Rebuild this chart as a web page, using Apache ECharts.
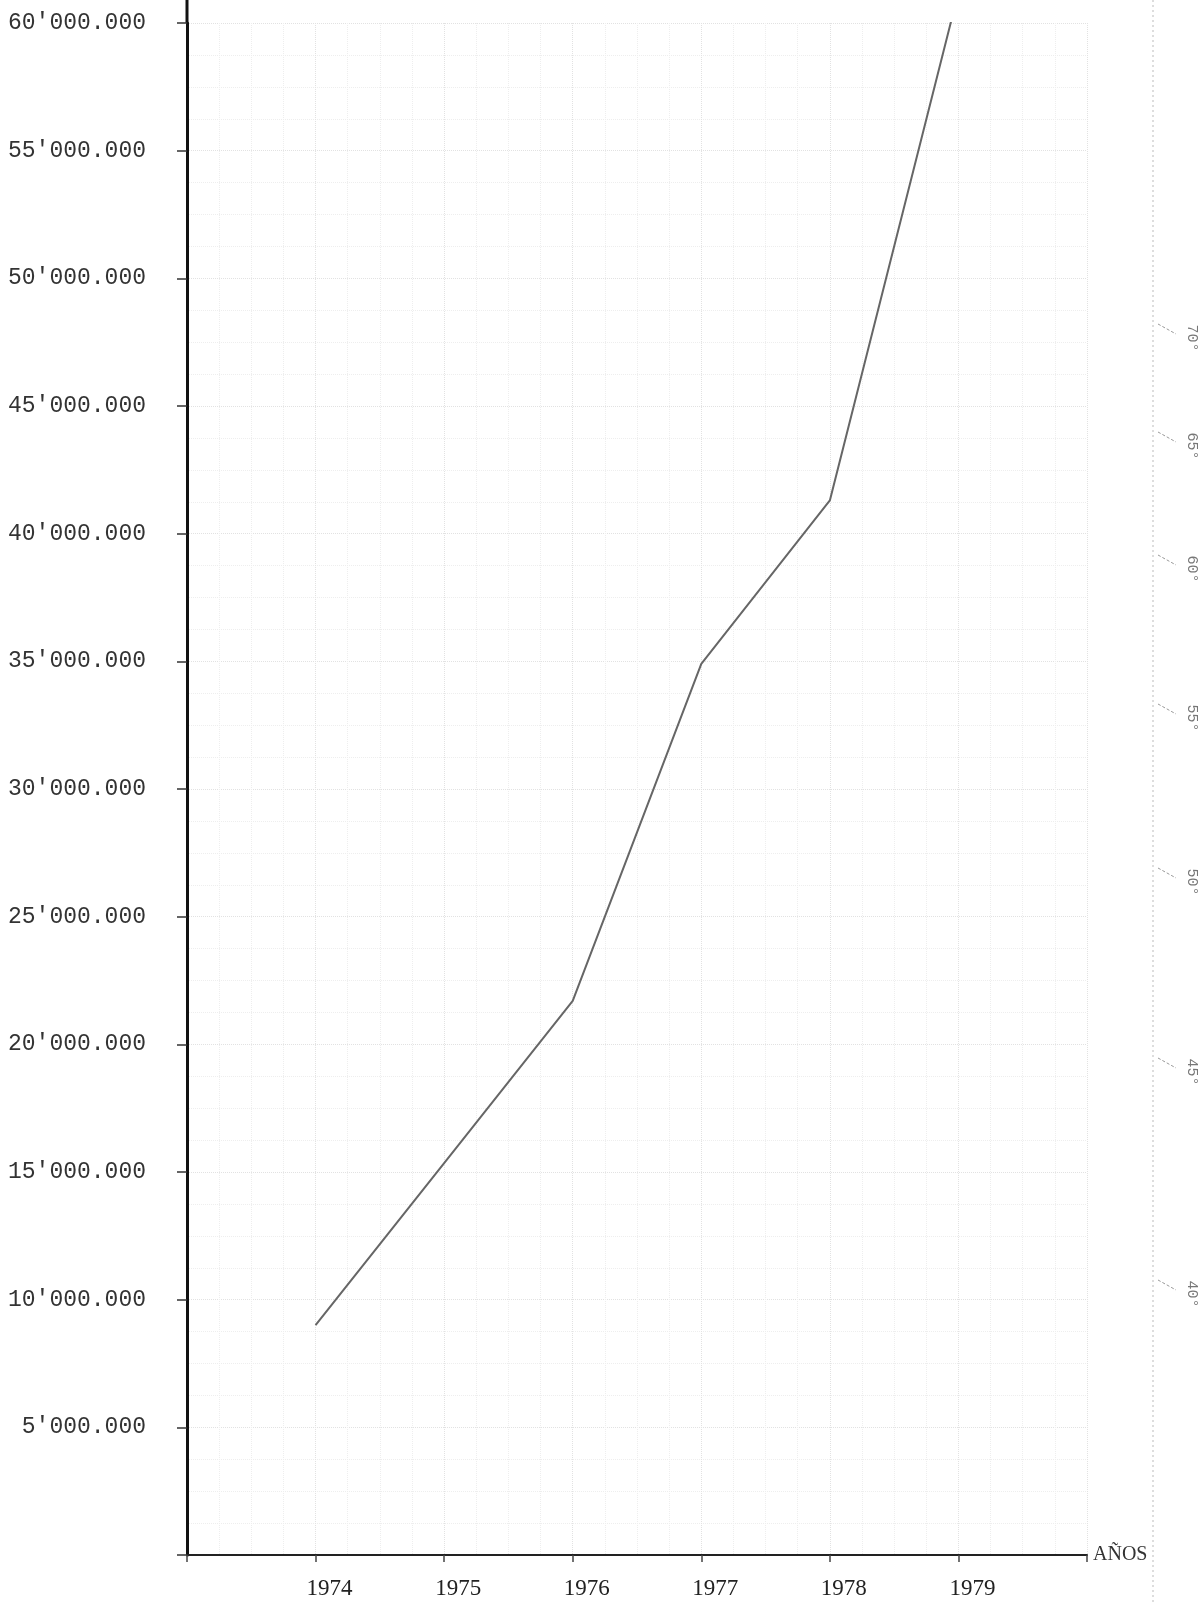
<!DOCTYPE html>
<html>
<head>
<meta charset="utf-8">
<script src="https://cdn.jsdelivr.net/npm/echarts@6/dist/echarts.min.js"></script>
<style>
html,body{margin:0;padding:0;background:#fff;}
#chart{width:1202px;height:1604px;}
</style>
</head>
<body>
<div id="chart"></div>
<script>
// Years (x) and values (y)
const years = [1974, 1975, 1976, 1977, 1978, 1979];
const values = [9000000, 15350000, 21700000, 34900000, 41300000, 61200000];
const xTickLabels = ['1974', '1975', '1976', '1977', '1978', '1979'];
const xAxisName = 'AÑOS';
// protractor-style angle marks on the right margin
const angleLabels = ['70°', '65°', '60°', '55°', '50°', '45°', '40°'];

function fmtY(v) {
  if (v === 0) return '';
  const units = v % 1000;
  const thousands = Math.floor(v / 1000) % 1000;
  const millions = Math.floor(v / 1000000);
  const p3 = n => String(n).padStart(3, '0');
  return millions + "'" + p3(thousands) + '.' + p3(units);
}

const chart = echarts.init(document.getElementById('chart'));
const angleY = [338, 446, 569, 718, 882, 1072, 1294];
const graphics = [{
  type: 'line', silent: true,
  shape: {x1: 1153, y1: 0, x2: 1153, y2: 1604},
  style: {stroke: '#bbb', lineWidth: 1, lineDash: [2, 3]}
}, {
  type: 'line', silent: true,
  shape: {x1: 187, y1: 0, x2: 187, y2: 23},
  style: {stroke: '#111', lineWidth: 3}
}];
angleLabels.forEach((t, i) => {
  graphics.push({
    type: 'text', silent: true, x: 1192, y: angleY[i], rotation: -Math.PI / 2,
    style: {text: t, fill: '#777', font: '15px "Liberation Mono"', align: 'center', verticalAlign: 'middle'}
  });
  graphics.push({
    type: 'line', silent: true,
    shape: {x1: 1158, y1: angleY[i] - 14, x2: 1176, y2: angleY[i] - 4},
    style: {stroke: '#999', lineWidth: 1, lineDash: [3, 2]}
  });
});

chart.setOption({
  animation: false,
  backgroundColor: '#fff',
  grid: {left: 187, top: 23, width: 900, height: 1532, containLabel: false},
  xAxis: {
    type: 'value', min: 1973, max: 1980, interval: 1,
    name: xAxisName, nameLocation: 'end', nameGap: 6,
    nameTextStyle: {fontFamily: 'Liberation Serif', fontSize: 20, color: '#333', verticalAlign: 'middle'},
    axisLine: {show: true, onZero: false, lineStyle: {color: '#222', width: 2}},
    axisTick: {show: true, length: 7, inside: false, lineStyle: {color: '#444', width: 1.5}},
    axisLabel: {
      margin: 22, fontFamily: 'Liberation Serif', fontSize: 23, color: '#222',
      padding: [0, 0, 0, 28],
      formatter: v => { const i = years.indexOf(v); return i >= 0 ? xTickLabels[i] : ''; }
    },
    splitLine: {show: true, lineStyle: {color: '#e2e2e2', type: 'dotted', width: 1}},
    minorTick: {show: true, splitNumber: 4, length: 0},
    minorSplitLine: {show: true, lineStyle: {color: '#eeeeee', type: 'dotted', width: 1}}
  },
  yAxis: {
    type: 'value', min: 0, max: 60000000, interval: 5000000,
    axisLine: {show: true, onZero: false, lineStyle: {color: '#111', width: 3}},
    axisTick: {show: true, length: 10, inside: false, lineStyle: {color: '#333', width: 1.5}},
    axisLabel: {
      margin: 41, fontFamily: 'Liberation Mono', fontSize: 23, color: '#333',
      padding: [0, 0, 12, 0],
      formatter: fmtY
    },
    splitLine: {show: true, lineStyle: {color: '#e2e2e2', type: 'dotted', width: 1}},
    minorTick: {show: true, splitNumber: 4, length: 0},
    minorSplitLine: {show: true, lineStyle: {color: '#eeeeee', type: 'dotted', width: 1}}
  },
  series: [{
    type: 'line',
    data: years.map((y, i) => [y, values[i]]),
    symbol: 'none',
    clip: true,
    lineStyle: {color: '#666', width: 2}
  }],
  graphic: graphics
});
</script>
</body>
</html>
